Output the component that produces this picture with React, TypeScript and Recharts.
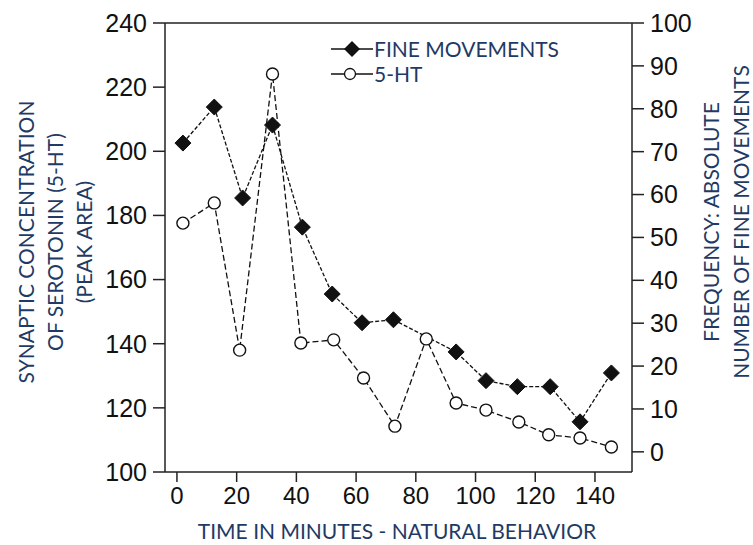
import React from "react";
import { LineChart, Line, XAxis, YAxis, ReferenceLine } from "recharts";

const timesFine = [2, 12.5, 22, 32, 42, 52, 62, 72.5, 93.5, 103.5, 114, 125, 135, 145.5];
const fineMovements = [72.0, 80.4, 59.2, 76.2, 52.4, 36.8, 30.1, 30.8, 23.3, 16.6, 15.2, 15.2, 7.0, 18.4];

const times5HT = [2, 12.5, 21, 32, 41.5, 52.5, 62.5, 73, 83.5, 93.5, 103.5, 114.5, 124.5, 135, 145.5];
const serotonin = [177.6, 183.9, 138.0, 224.1, 140.2, 141.2, 129.3, 114.3, 141.5, 121.5, 119.3, 115.6, 111.6, 110.6, 107.8];

const xTicks = [0, 20, 40, 60, 80, 100, 120, 140];
const leftTicks = [100, 120, 140, 160, 180, 200, 220, 240];
const rightTicks = [0, 10, 20, 30, 40, 50, 60, 70, 80, 90, 100];

const fineData = timesFine.map((t, i) => ({ time: t, fine: fineMovements[i] }));
const serotoninData = times5HT.map((t, i) => ({ time: t, ht: serotonin[i] }));

const TITLE_COLOR = "#1F3A64";
const TITLE_FONT = "Lato, 'Open Sans', sans-serif";
const TICK_FONT = "'Liberation Sans', Arial, sans-serif";
const AXIS_COLOR = "#222";

const Diamond = (props: any) => {
  const { cx, cy, index } = props;
  if (cx == null || cy == null) return <g key={`d-${index}`} />;
  const s = 8;
  return (
    <polygon
      key={`d-${index}`}
      points={`${cx},${cy - s} ${cx + s},${cy} ${cx},${cy + s} ${cx - s},${cy}`}
      fill="#111"
      stroke="#111"
      strokeWidth={1}
    />
  );
};

const OpenCircle = (props: any) => {
  const { cx, cy, index } = props;
  if (cx == null || cy == null) return <g key={`c-${index}`} />;
  return <circle key={`c-${index}`} cx={cx} cy={cy} r={6} fill="#fff" stroke="#111" strokeWidth={1.4} />;
};

const LeftTitle = () => (
  <g>
    {["SYNAPTIC CONCENTRATION", "OF SEROTONIN (5-HT)", "(PEAK AREA)"].map((t, i) => {
      const x = [25, 54, 83][i];
      const y = 242;
      return (
        <text
          key={t}
          x={x}
          y={y}
          transform={`rotate(-90 ${x} ${y})`}
          textAnchor="middle"
          dominantBaseline="central"
          fontFamily={TITLE_FONT}
          fontSize={21}
          fill={TITLE_COLOR}
        >
          {t}
        </text>
      );
    })}
  </g>
);

const RightTitle = () => (
  <g>
    {["FREQUENCY: ABSOLUTE", "NUMBER OF FINE MOVEMENTS"].map((t, i) => {
      const x = [710, 740][i];
      const y = 222;
      return (
        <text
          key={t}
          x={x}
          y={y}
          transform={`rotate(-90 ${x} ${y})`}
          textAnchor="middle"
          dominantBaseline="central"
          fontFamily={TITLE_FONT}
          fontSize={21}
          fill={TITLE_COLOR}
        >
          {t}
        </text>
      );
    })}
  </g>
);

const XTitle = () => (
  <text
    x={397}
    y={530}
    textAnchor="middle"
    dominantBaseline="central"
    fontFamily={TITLE_FONT}
    fontSize={21}
    fill={TITLE_COLOR}
  >
    TIME IN MINUTES - NATURAL BEHAVIOR
  </text>
);

const legendItems = [
  { label: "FINE MOVEMENTS", kind: "diamond" },
  { label: "5-HT", kind: "circle" },
];

const LegendOverlay = () => (
  <div style={{ position: "absolute", left: 330, top: 36, pointerEvents: "none" }}>
    {legendItems.map((it) => (
      <div key={it.label} style={{ display: "flex", alignItems: "center", height: 25 }}>
        <svg width={44} height={24} style={{ display: "block" }}>
          <line x1={1} y1={12} x2={43} y2={12} stroke="#111" strokeWidth={1.3} />
          {it.kind === "diamond" ? (
            <polygon points="22,4 30,12 22,20 14,12" fill="#111" />
          ) : (
            <circle cx={20} cy={12} r={5.5} fill="#fff" stroke="#111" strokeWidth={1.3} />
          )}
        </svg>
        <span style={{ fontFamily: TITLE_FONT, fontSize: 21, color: TITLE_COLOR, lineHeight: "25px" }}>
          {it.label}
        </span>
      </div>
    ))}
  </div>
);

export default function App() {
  return (
    <div style={{ position: "absolute", left: 0, top: 0, width: 753, height: 545, background: "#fff" }}>
      <LineChart width={753} height={545} margin={{ top: 23, right: 0, bottom: 0, left: 0 }}>
        <XAxis
          dataKey="time"
          type="number"
          domain={[-4, 152.4]}
          allowDataOverflow
          ticks={xTicks}
          height={73}
          tickSize={10}
          tickMargin={5}
          axisLine={{ stroke: AXIS_COLOR, strokeWidth: 1.5 }}
          tickLine={{ stroke: AXIS_COLOR, strokeWidth: 1.5 }}
          tick={{ fill: "#111", fontSize: 24, fontFamily: TICK_FONT }}
          label={<XTitle />}
        />
        <YAxis
          yAxisId="left"
          orientation="left"
          type="number"
          domain={[100, 240]}
          allowDataOverflow
          ticks={leftTicks}
          width={165}
          tickSize={12}
          tickMargin={6}
          axisLine={{ stroke: AXIS_COLOR, strokeWidth: 1.5 }}
          tickLine={{ stroke: AXIS_COLOR, strokeWidth: 1.5 }}
          tick={{ fill: "#111", fontSize: 25, fontFamily: TICK_FONT }}
          label={<LeftTitle />}
        />
        <YAxis
          yAxisId="right"
          orientation="right"
          type="number"
          domain={[-4.7, 100]}
          allowDataOverflow
          ticks={rightTicks}
          width={121}
          tickSize={12}
          tickMargin={6}
          axisLine={{ stroke: AXIS_COLOR, strokeWidth: 1.5 }}
          tickLine={{ stroke: AXIS_COLOR, strokeWidth: 1.5 }}
          tick={{ fill: "#111", fontSize: 25, fontFamily: TICK_FONT }}
          label={<RightTitle />}
        />
        <ReferenceLine yAxisId="left" y={240} stroke={AXIS_COLOR} strokeWidth={1.5} />
        <Line
          yAxisId="right"
          data={fineData}
          dataKey="fine"
          type="linear"
          stroke="#111"
          strokeWidth={1.3}
          strokeDasharray="4 2"
          dot={Diamond}
          activeDot={false}
          isAnimationActive={false}
        />
        <Line
          yAxisId="left"
          data={serotoninData}
          dataKey="ht"
          type="linear"
          stroke="#111"
          strokeWidth={1.3}
          strokeDasharray="6 3"
          dot={OpenCircle}
          activeDot={false}
          isAnimationActive={false}
        />
      </LineChart>
      <LegendOverlay />
    </div>
  );
}
